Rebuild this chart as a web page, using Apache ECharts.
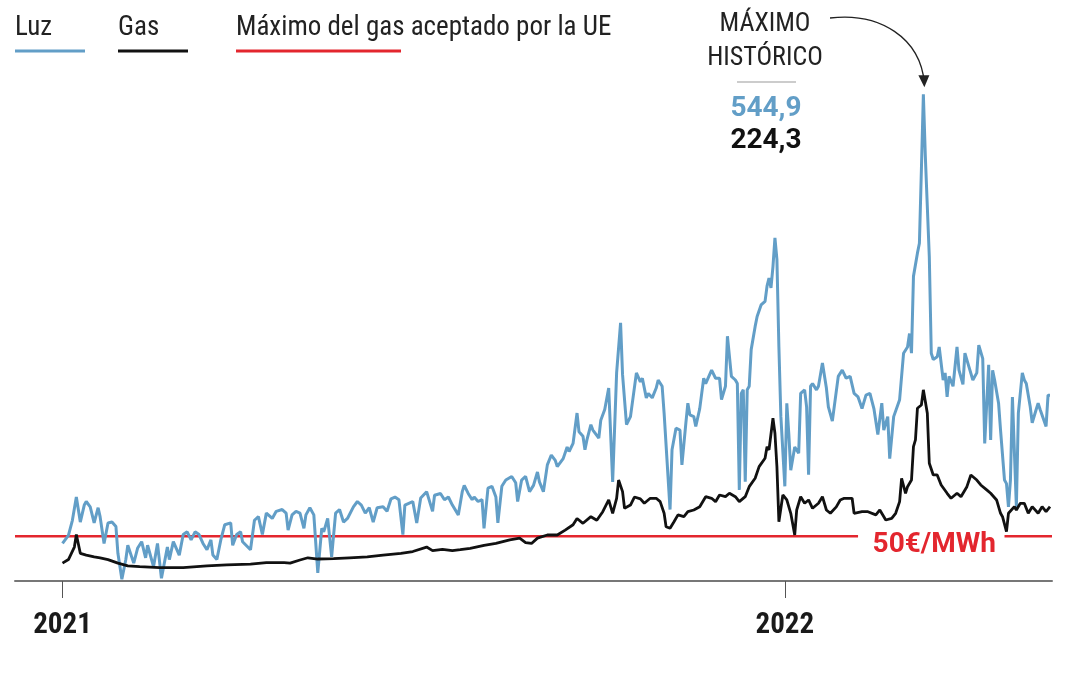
<!DOCTYPE html>
<html>
<head>
<meta charset="utf-8">
<script src="https://cdn.jsdelivr.net/npm/echarts@6.0.0/dist/echarts.min.js"></script>
<style>
  html, body { margin: 0; padding: 0; background: #fff; }
  #chart { width: 1080px; height: 675px; }
</style>
</head>
<body>
<div id="chart"></div>
<script>
// días desde el 1 de enero de 2021 y precios en €/MWh
const luzDays = [
  0, 3, 5, 7, 9, 11, 12, 14, 16, 18,
  19, 21, 23, 25, 27, 28, 30, 32, 33, 36,
  38, 40, 42, 43, 46, 48, 50, 53, 54, 56,
  59, 61, 63, 65, 67, 69, 71, 73, 75, 76,
  78, 80, 82, 85, 86, 88, 90, 91, 95, 97,
  99, 101, 103, 106, 108, 111, 113, 114, 116, 118,
  120, 122, 123, 125, 127, 129, 131, 132, 134, 136,
  138, 140, 142, 144, 147, 149, 151, 153, 155, 157,
  159, 162, 164, 166, 168, 170, 172, 173, 175, 177,
  179, 181, 184, 187, 188, 191, 193, 195, 197, 200,
  202, 203, 205, 207, 208, 210, 212, 213, 215, 217,
  219, 220, 222, 224, 227, 229, 230, 232, 234, 236,
  238, 240, 241, 243, 245, 247, 249, 250, 253, 255,
  256, 258, 260, 261, 263, 264, 265, 267, 268, 269,
  271, 272, 274, 276, 278, 280, 282, 283, 285, 287,
  288, 290, 292, 293, 295, 296, 298, 300, 301, 303,
  304, 307, 308, 310, 312, 313, 315, 316, 317, 319,
  320, 322, 324, 325, 327, 328, 330, 332, 333, 335,
  336, 338, 340, 341, 342, 343, 344, 345, 346, 347,
  348, 350, 351, 353, 355, 356, 357, 358, 359, 360,
  361, 362, 363, 365, 366, 367, 368, 370, 372, 373,
  375, 376, 377, 378, 379, 381, 382, 383, 384, 386,
  387, 389, 392, 394, 396, 398, 400, 402, 404, 406,
  408, 410, 412, 414, 415, 417, 418, 420, 421, 423,
  425, 427, 428, 429, 430, 431, 432, 433, 434, 435,
  436, 438, 439, 440, 442, 443, 445, 446, 447, 448,
  450, 452, 453, 455, 456, 458, 460, 462, 463, 465,
  466, 468, 469, 470, 471, 473, 474, 476, 477, 478,
  479, 480, 482, 483, 485, 486, 487, 489, 490, 492,
  493, 494, 495, 497, 498, 499
];
const luzValues = [
  42, 51, 68, 94, 66, 85, 89, 83, 65, 82,
  72, 42, 65, 66, 61, 31, 2, 24, 40, 20,
  37, 44, 26, 40, 16, 42, 3, 38, 24, 44,
  29, 52, 55, 46, 55, 52, 42, 35, 46, 29,
  24, 46, 63, 65, 40, 52, 55, 44, 35, 68,
  72, 52, 76, 70, 78, 80, 76, 57, 74, 78,
  76, 59, 74, 82, 74, 9, 59, 55, 70, 27,
  76, 80, 66, 70, 83, 89, 85, 76, 82, 66,
  82, 83, 78, 92, 94, 91, 52, 85, 87, 89,
  65, 93, 100, 78, 96, 98, 91, 94, 85, 74,
  100, 107, 98, 91, 94, 89, 91, 59, 104, 106,
  94, 65, 106, 113, 117, 110, 89, 113, 117, 100,
  107, 122, 111, 100, 130, 141, 135, 128, 137, 150,
  145, 154, 188, 167, 162, 147, 158, 175, 169, 171,
  160, 180, 192, 216, 111, 233, 289, 231, 175, 184,
  184, 233, 223, 227, 205, 210, 205, 216, 225, 218,
  188, 80, 147, 171, 169, 130, 177, 199, 186, 184,
  173, 193, 227, 221, 231, 236, 227, 227, 203, 218,
  274, 229, 225, 221, 102, 210, 214, 111, 214, 218,
  259, 285, 296, 309, 313, 330, 339, 328, 352, 384,
  360, 262, 184, 106, 199, 165, 124, 150, 143, 210,
  214, 195, 119, 218, 221, 214, 218, 218, 244, 216,
  195, 179, 229, 236, 227, 229, 210, 206, 193, 208,
  210, 193, 164, 199, 169, 184, 137, 184, 182, 203,
  255, 262, 277, 255, 341, 341, 367, 378, 460, 544.9,
  475, 363, 255, 248, 251, 262, 225, 233, 206, 229,
  218, 262, 236, 220, 255, 240, 225, 233, 264, 249,
  154, 242, 158, 236, 225, 199, 169, 113, 109, 83,
  113, 206, 83, 188, 233, 225, 221, 195, 177, 192,
  199, 192, 193, 173, 208, 208
];
const gasDays = [
  0, 3, 6, 7, 9, 12, 16, 19, 23, 28,
  33, 39, 49, 61, 73, 83, 95, 103, 112, 115,
  120, 124, 129, 137, 145, 154, 162, 171, 177, 184,
  187, 192, 197, 201, 206, 213, 219, 226, 231, 234,
  237, 240, 245, 250, 254, 258, 260, 263, 267, 270,
  273, 276, 278, 280, 281, 283, 284, 287, 289, 292,
  294, 297, 300, 302, 304, 305, 307, 309, 311, 314,
  316, 319, 322, 325, 328, 330, 332, 335, 337, 340,
  342, 345, 347, 350, 352, 355, 356, 357, 359, 360,
  361, 362, 364, 366, 368, 370, 371, 373, 375, 377,
  379, 382, 384, 386, 388, 391, 393, 395, 399, 400,
  404, 407, 411, 413, 416, 419, 421, 423, 424, 426,
  427, 429, 430, 431, 432, 434, 435, 437, 438, 440,
  442, 444, 447, 449, 452, 454, 457, 459, 462, 464,
  467, 469, 472, 474, 475, 477, 478, 481, 482, 484,
  486, 488, 490, 493, 495, 497, 499
];
const gasValues = [
  20, 24, 38, 52, 31, 29, 27, 26, 24, 20,
  17, 16, 15, 15, 17, 18, 19, 20.5, 20.5, 20,
  23.5, 26, 24.6, 25, 26, 27, 29, 31, 33, 38,
  34, 35.5, 34, 35, 36.6, 40, 42, 46, 48, 43,
  42, 48, 51.5, 51.5, 57, 63, 70, 64.6, 72, 68,
  77.6, 90.7, 75.8, 92.6, 113, 100, 81.4, 85, 94, 92,
  87, 92.6, 92.6, 88.8, 75.8, 60.8, 59, 66.4, 74, 72,
  77.6, 79.5, 83.2, 94.4, 92.6, 88.8, 96.3, 94.4, 98.2, 94.4,
  88.8, 94.4, 105.6, 115, 128, 137.4, 150.4, 146.7, 182.2, 165.4,
  128, 66.4, 96.3, 90.7, 75.8, 51.5, 79.5, 94.4, 87, 90.7,
  81.4, 87, 94.4, 79.5, 75.8, 83, 90.7, 92.6, 92.6, 75.8,
  77.6, 77.6, 74, 79.5, 68.3, 70, 75.8, 88.8, 115, 98.2,
  105.6, 113, 150.4, 157.9, 193.4, 197, 214, 187.8, 131.8, 118.7,
  118.7, 107.5, 98.2, 92.6, 98.2, 94.4, 105.6, 118.7, 113, 107.5,
  102, 98.2, 90.7, 75.8, 72, 55.2, 75.8, 83.2, 79.5, 87,
  87, 75.8, 83.2, 75.8, 83.2, 77.6, 83.2
];
// tope del gas (50 €/MWh), con hueco para la etiqueta
const capDays = [-24, 402, 442, 476, 500];
const capValues = [50, 50, '-', 50, 50];
const yearTicks = [0, 365];
const yearLabels = ['2021', '2022'];
const peakLuz = '544,9';
const peakGas = '224,3';

const BLUE = '#629ec7';
const BLACK = '#111111';
const RED = '#e3262e';
const NARROW = "'Liberation Sans Narrow', 'Roboto Condensed', Roboto, sans-serif";

const chart = echarts.init(document.getElementById('chart'));

const option = {
    animation: false,
    backgroundColor: '#ffffff',
    grid: { left: 15, right: 28, top: 45, bottom: 94 },
    xAxis: {
        type: 'value',
        min: -24,
        max: 500,
        splitLine: { show: false },
        axisLine: { lineStyle: { color: '#777', width: 2 } },
        axisTick: {
            customValues: yearTicks,
            length: 17,
            lineStyle: { color: '#555', width: 1 }
        },
        axisLabel: {
            customValues: yearTicks,
            formatter: v => yearLabels[yearTicks.indexOf(v)],
            fontFamily: NARROW,
            fontWeight: 'bold',
            fontSize: 29,
            color: '#1a1a1a',
            margin: 30
        }
    },
    yAxis: {
        type: 'value',
        min: 0,
        max: 600,
        show: false
    },
    series: [
        {
            name: 'Máximo del gas aceptado por la UE',
            type: 'line',
            data: capDays.map((d, i) => [d, capValues[i]]),
            showSymbol: false,
            lineStyle: { color: RED, width: 2.5 },
            z: 1
        },
        {
            name: 'Luz',
            type: 'line',
            data: luzDays.map((d, i) => [d, luzValues[i]]),
            showSymbol: false,
            lineStyle: { color: BLUE, width: 3 },
            z: 2
        },
        {
            name: 'Gas',
            type: 'line',
            data: gasDays.map((d, i) => [d, gasValues[i]]),
            showSymbol: false,
            lineStyle: { color: BLACK, width: 2.8 },
            z: 3
        }
    ]
};
chart.setOption(option);

// leyenda subrayada, anotación del máximo y etiqueta del tope
const legendItems = [
    { text: 'Luz', x: 15, w: 70, color: BLUE },
    { text: 'Gas', x: 118, w: 70, color: BLACK },
    { text: 'Máximo del gas aceptado por la UE', x: 236, w: 165, color: RED }
];
const graphics = [];
legendItems.forEach(it => {
    graphics.push({
        type: 'text', x: it.x, y: 28,
        style: { text: it.text, font: '27px ' + NARROW, fill: '#222', textAlign: 'left', textVerticalAlign: 'middle' }
    });
    graphics.push({
        type: 'rect', shape: { x: it.x, y: 49.5, width: it.w, height: 3 },
        style: { fill: it.color }
    });
});

const peakIdx = luzValues.indexOf(Math.max(...luzValues));
const peakPx = chart.convertToPixel({ gridIndex: 0 }, [luzDays[peakIdx], luzValues[peakIdx]]);
const tipX = peakPx[0] + 1, tipY = peakPx[1] - 7;

graphics.push(
    { type: 'text', x: 765, y: 24, style: { text: 'MÁXIMO', font: '26px ' + NARROW, fill: '#222', textAlign: 'center', textVerticalAlign: 'middle' } },
    { type: 'text', x: 765, y: 58, style: { text: 'HISTÓRICO', font: '26px ' + NARROW, fill: '#222', textAlign: 'center', textVerticalAlign: 'middle' } },
    { type: 'line', shape: { x1: 737, y1: 82, x2: 796, y2: 82 }, style: { stroke: '#999', lineWidth: 1 } },
    { type: 'text', x: 766, y: 109, style: { text: peakLuz, font: 'bold 28px Roboto', fill: BLUE, textAlign: 'center', textVerticalAlign: 'middle' } },
    { type: 'text', x: 766, y: 141, style: { text: peakGas, font: 'bold 28px Roboto', fill: BLACK, textAlign: 'center', textVerticalAlign: 'middle' } },
    {
        type: 'bezierCurve',
        shape: { x1: 830, y1: 18, cpx1: 880, cpy1: 12, cpx2: tipX - 4, cpy2: 38, x2: tipX, y2: tipY - 4 },
        style: { stroke: '#222', lineWidth: 1.3, fill: null }
    },
    {
        type: 'polygon',
        shape: { points: [[tipX, tipY], [tipX - 6, tipY - 12], [tipX + 5, tipY - 12]] },
        style: { fill: '#222' }
    }
);

const capLabel = chart.convertToPixel({ gridIndex: 0 }, [capDays[2], 50]);
graphics.push({
    type: 'text', x: capLabel[0] - 3, y: capLabel[1] + 9,
    style: { text: '50€/MWh', font: 'bold 28px Roboto', fill: RED, textAlign: 'center', textVerticalAlign: 'middle' }
});

chart.setOption({ graphic: graphics });
</script>
</body>
</html>
